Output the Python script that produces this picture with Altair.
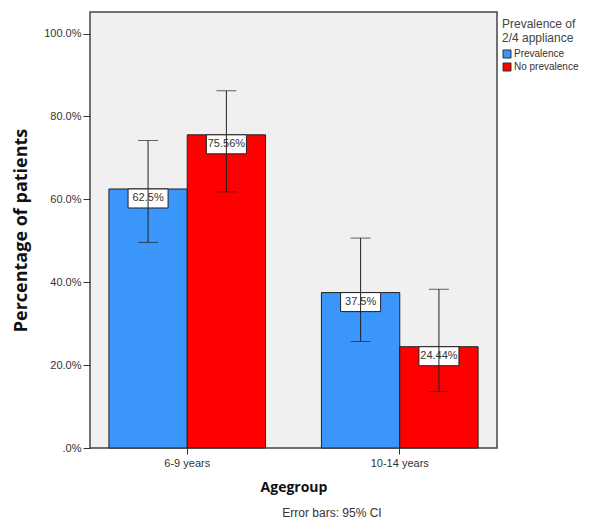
import altair as alt
import pandas as pd

agegroups = ["6-9 years", "6-9 years", "10-14 years", "10-14 years"]
series = ["Prevalence", "No prevalence", "Prevalence", "No prevalence"]
values = [62.5, 75.56, 37.5, 24.44]
ci_low = [49.6, 61.8, 25.7, 13.6]
ci_high = [74.2, 86.2, 50.65, 38.3]
labels = ["62.5%", "75.56%", "37.5%", "24.44%"]
age_order = ["6-9 years", "10-14 years"]
series_order = ["Prevalence", "No prevalence"]
y_ticks = [0, 20, 40, 60, 80, 100]
footnote = ["Error bars: 95% CI"]

df = pd.DataFrame({
    "agegroup": agegroups, "series": series, "value": values,
    "lo": ci_low, "hi": ci_high, "label": labels,
})

FONT = "Liberation Sans"
TFONT = "Open Sans"

x = alt.X("agegroup:N", sort=age_order,
          scale=alt.Scale(paddingInner=0.263, paddingOuter=0.089),
          axis=alt.Axis(title="Agegroup", labelAngle=0, labelFont=FONT, labelFontSize=11,
                        labelColor="#333", tickColor="#333", tickSize=6, labelPadding=3,
                        domain=False, titleFont=TFONT, titleFontSize=14, titleFontWeight="bold",
                        titleColor="#111", titlePadding=12))
xo = alt.XOffset("series:N", sort=series_order,
                 scale=alt.Scale(paddingInner=0, paddingOuter=0))
yscale = alt.Scale(domain=[0, 105.2], nice=False, zero=True)

base = alt.Chart(df)

bars = base.mark_bar(stroke="#222", strokeWidth=1).encode(
    x=x, xOffset=xo,
    y=alt.Y("value:Q", scale=yscale,
            axis=alt.Axis(values=y_ticks, title="Percentage of patients", grid=False,
                          labelExpr="datum.value == 0 ? '.0%' : format(datum.value, '.1f') + '%'",
                          labelFont=FONT, labelFontSize=11, labelColor="#333",
                          tickColor="#333", tickSize=7, labelPadding=2, domain=False,
                          titleFont=TFONT, titleFontSize=18, titleFontWeight="bold",
                          titleColor="#111", titlePadding=13)),
    color=alt.Color("series:N", sort=series_order,
                    scale=alt.Scale(domain=series_order, range=["#3A96FA", "#FF0000"]),
                    legend=alt.Legend(title=["Prevalence of", "2/4 appliance"],
                                      orient="none", legendX=412, legendY=7,
                                      titleFont=FONT, titleFontSize=12, titleFontWeight="normal",
                                      titleColor="#444", titleLineHeight=14, titlePadding=4,
                                      labelFont=FONT, labelFontSize=10, labelColor="#333",
                                      symbolType="square", symbolSize=64, symbolStrokeColor="#333",
                                      symbolStrokeWidth=1, rowPadding=1, labelOffset=2)),
)

boxes = base.mark_point(shape="M-1,-0.475H1V0.475H-1Z", size=1600, filled=True,
                        fill="white", stroke="#222", strokeWidth=1, opacity=1,
                        yOffset=9.5).encode(
    x=x, xOffset=xo, y=alt.Y("value:Q", scale=yscale))

texts = base.mark_text(font=FONT, fontSize=11, color="#333", baseline="middle",
                       align="center", yOffset=9.5).encode(
    x=x, xOffset=xo, y=alt.Y("value:Q", scale=yscale), text="label:N")

rules = base.mark_rule(color="#222", strokeWidth=1).encode(
    x=x, xOffset=xo, y=alt.Y("lo:Q", scale=yscale), y2="hi:Q")

cap_lo = base.mark_tick(color="#222", thickness=1, size=20, orient="horizontal").encode(
    x=x, xOffset=xo, y=alt.Y("lo:Q", scale=yscale))
cap_hi = base.mark_tick(color="#222", thickness=1, size=20, orient="horizontal").encode(
    x=x, xOffset=xo, y=alt.Y("hi:Q", scale=yscale))

foot = alt.Chart(pd.DataFrame({"t": footnote})).mark_text(
    font=FONT, fontSize=12, color="#333", baseline="middle", align="center").encode(
    text="t:N", x=alt.value(242), y=alt.value(501))

chart = alt.layer(bars, boxes, texts, rules, cap_lo, cap_hi, foot).properties(
    width=407, height=436,
    autosize=alt.AutoSizeParams(type="none"),
    padding={"left": 82, "top": 4, "right": 84, "bottom": 71},
).configure(background="white").configure_view(fill="#F0F0F0", stroke="#444", strokeWidth=1.5)

chart.save("out.html", embed_options={"renderer": "svg", "actions": False})
